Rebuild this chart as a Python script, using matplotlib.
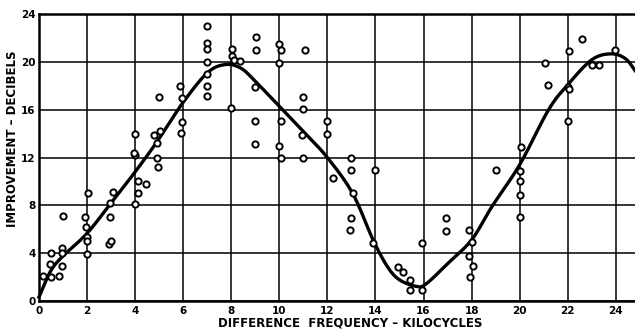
import numpy as np
import matplotlib
matplotlib.use("Agg")
import matplotlib.pyplot as plt

# measured points (kilocycles, decibels)
freq = [0.15, 0.5, 0.45, 0.5, 0.85, 0.95, 0.95, 0.95, 1.0,
        2.05, 1.9, 1.95, 2.0, 2.0, 2.0,
        2.95, 3.1, 2.97, 2.9, 3.0,
        4.0, 4.1, 4.1, 4.45, 4.95, 4.9, 4.0, 3.95, 4.0, 4.8, 5.05, 4.9, 5.0,
        5.9, 5.95, 5.95, 5.87,
        7.0, 7.0, 7.0, 7.0, 7.0, 7.0, 7.0,
        8.05, 8.05, 8.1, 8.35, 8.0,
        9.05, 9.05, 9.0, 9.0, 9.0,
        10.0, 10.05, 10.0, 10.05, 10.0, 10.05,
        11.05, 11.0, 11.0, 10.95, 11.0,
        12.0, 12.0, 12.25,
        13.0, 13.0, 13.05, 13.0, 12.95,
        14.0, 13.9,
        14.95, 15.15, 15.45, 15.45,
        15.95, 15.95,
        16.95, 16.95,
        17.9, 18.0, 17.9, 18.05, 17.95,
        19.0,
        20.0, 20.0, 20.0, 20.0, 20.05,
        21.05, 21.2,
        22.05, 22.0, 22.05, 22.0,
        22.6, 23.0, 23.3, 23.95]
gain = [2.1, 4.0, 3.1, 2.0, 2.1, 2.9, 4.4, 4.0, 7.1,
        9.0, 7.0, 6.2, 5.3, 5.0, 3.9,
        8.2, 9.1, 7.0, 4.75, 5.0,
        8.1, 9.0, 10.0, 9.8, 11.2, 12.0, 12.2, 12.4, 14.0, 13.9, 14.2, 13.2, 17.1,
        14.1, 15.0, 17.0, 18.0,
        23.0, 21.6, 21.1, 20.0, 19.0, 18.0, 17.2,
        21.1, 20.5, 20.2, 20.1, 16.2,
        22.1, 21.0, 17.9, 15.1, 13.1,
        21.5, 21.0, 19.9, 15.05, 13.0, 12.0,
        21.0, 17.1, 16.1, 13.9, 12.0,
        15.05, 14.0, 10.25,
        12.0, 11.0, 9.05, 6.9, 5.9,
        11.0, 4.85,
        2.85, 2.4, 1.75, 0.9,
        4.85, 0.9,
        6.9, 5.85,
        5.9, 4.95, 3.75, 2.9, 1.95,
        11.0,
        10.9, 10.0, 8.85, 7.0, 12.9,
        19.95, 18.1,
        20.9, 17.9, 17.75, 15.1,
        21.95, 19.75, 19.8, 21.0]

# hand-faired curve through the data
curve_x = [0, 0.25, 0.55, 1.0, 2.0, 3.0, 4.0, 4.9, 5.95, 7.0, 7.75, 8.4, 9.0, 10.0,
           11.0, 12.0, 13.05, 13.9, 14.5, 15.0, 15.7, 16.1, 17.0, 18.0, 18.85,
           20.0, 21.2, 22.0, 23.0, 23.8, 24.4, 24.8]
curve_y = [0.3, 1.5, 2.7, 3.75, 5.65, 8.2, 10.8, 13.3, 16.5, 19.1, 19.8, 19.5, 18.4, 16.3,
           14.2, 12.0, 9.0, 5.1, 2.85, 1.75, 1.2, 1.4, 3.1, 5.1, 7.9,
           11.4, 16.0, 18.1, 20.2, 20.7, 20.3, 19.3]


def catmull_rom(xs, ys, n=30):
    p = np.column_stack([xs, ys]).astype(float)
    p = np.vstack([p[0], p, p[-1]])
    out = []
    t = np.linspace(0, 1, n, endpoint=False)[:, None]
    for i in range(1, len(p) - 2):
        p0, p1, p2, p3 = p[i - 1], p[i], p[i + 1], p[i + 2]
        seg = 0.5 * ((2 * p1) + (-p0 + p2) * t
                     + (2 * p0 - 5 * p1 + 4 * p2 - p3) * t ** 2
                     + (-p0 + 3 * p1 - 3 * p2 + p3) * t ** 3)
        out.append(seg)
    out.append(p[-2][None, :])
    out = np.vstack(out)
    return out[:, 0], out[:, 1]


fig = plt.figure(figsize=(6.35, 3.29), dpi=100)
ax = fig.add_axes([0.0614, 0.086, 0.9386, 0.870])

ax.set_xlim(0, 24.8)
ax.set_ylim(0, 24)
ax.set_xticks(np.arange(0, 25, 2))
ax.set_yticks(np.arange(0, 25, 4))
ax.grid(True, color="black", linewidth=1.1)
ax.set_axisbelow(True)
ax.tick_params(axis="x", length=0, labelsize=7.5, pad=3.5)
ax.tick_params(axis="y", length=0, labelsize=7.5, pad=2.5)
for lab in ax.get_xticklabels() + ax.get_yticklabels():
    lab.set_fontweight("bold")
for side in ["left", "bottom", "top"]:
    ax.spines[side].set_linewidth(1.8)
ax.spines["right"].set_visible(False)

cx, cy = catmull_rom(curve_x, curve_y)
ax.plot(cx, cy, color="black", linewidth=2.4, zorder=3, clip_on=False)
ax.plot(freq, gain, linestyle="none", marker="o", markersize=4.5,
        markerfacecolor="white", markeredgecolor="black",
        markeredgewidth=1.4, zorder=4)

fig.text(0.551, 0.017, "DIFFERENCE  FREQUENCY – KILOCYCLES", ha="center",
         va="center", fontsize=8.5, fontweight="bold")
fig.text(0.019, 0.578, "IMPROVEMENT – DECIBELS", rotation=90, ha="center",
         va="center", fontsize=8.5, fontweight="bold")

fig.savefig("out.png", dpi=100)
